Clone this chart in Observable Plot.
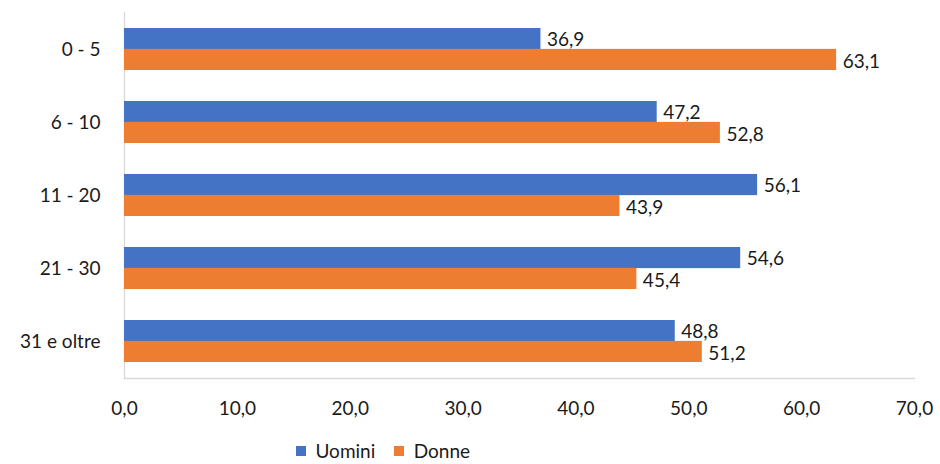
<!DOCTYPE html>
<html>
<head>
<meta charset="utf-8">
<script src="https://cdn.jsdelivr.net/npm/d3@7"></script>
<script src="https://cdn.jsdelivr.net/npm/@observablehq/plot@0.6"></script>
<style>
  body { margin: 0; background: #fff; font-family: Lato, "Open Sans", sans-serif; }
  #chart { width: 940px; }
  #legend { margin-left: 296px; margin-top: 2px; }
</style>
</head>
<body>
<div id="chart"></div>
<div id="legend"></div>
<script>
const categories = ["0 - 5", "6 - 10", "11 - 20", "21 - 30", "31 e oltre"];
const uomini = [36.9, 47.2, 56.1, 54.6, 48.8];
const donne = [63.1, 52.8, 43.9, 45.4, 51.2];
const series = ["Uomini", "Donne"];
const colors = ["#4472C4", "#ED7D31"];
const xTicks = [0, 10, 20, 30, 40, 50, 60, 70];

const fmt = v => v.toFixed(1).replace(".", ",");

const data = [];
categories.forEach((c, i) => {
  data.push({cat: c, serie: series[0], value: uomini[i]});
  data.push({cat: c, serie: series[1], value: donne[i]});
});
const dU = data.filter(d => d.serie === series[0]);
const dD = data.filter(d => d.serie === series[1]);

const W = 940, H = 432, mt = 12, mb = H - 378, ml = 124, mr = 26;
const yOpts = {type: "band", domain: categories, range: [mt, H - mb], paddingInner: 0.43, paddingOuter: 0.215};
const bw = Plot.scale({y: yOpts}).bandwidth;
const font = "Lato, 'Open Sans', sans-serif";

const chart = Plot.plot({
  width: W, height: H,
  marginTop: mt, marginBottom: mb, marginLeft: ml, marginRight: mr,
  style: {fontFamily: font, fontSize: "19px", color: "#1a1a1a", background: "#fff"},
  x: {domain: [0, 70], ticks: xTicks, tickFormat: fmt, tickSize: 0, tickPadding: 23, label: null},
  y: {domain: categories, paddingInner: 0.43, paddingOuter: 0.215, tickSize: 0, tickPadding: 24, label: null},
  color: {domain: series, range: colors},
  marks: [
    Plot.frame({anchor: "bottom", stroke: "#d9d9d9", strokeWidth: 1.3}),
    Plot.frame({anchor: "left", stroke: "#d9d9d9", strokeWidth: 1.3}),
    Plot.barX(dU, {x: "value", y: "cat", fill: "serie", insetBottom: bw / 2}),
    Plot.barX(dD, {x: "value", y: "cat", fill: "serie", insetTop: bw / 2}),
    Plot.text(dU, {x: "value", y: "cat", text: d => fmt(d.value), dx: 6, dy: -bw / 4 + 1, textAnchor: "start", fill: "#1a1a1a", fontSize: 19}),
    Plot.text(dD, {x: "value", y: "cat", text: d => fmt(d.value), dx: 6, dy: bw / 4 + 2, textAnchor: "start", fill: "#1a1a1a", fontSize: 19})
  ]
});
document.getElementById("chart").appendChild(chart);

const legend = Plot.legend({
  color: {domain: series, range: colors},
  swatchSize: 10,
  style: {fontFamily: font, fontSize: "19px", color: "#1a1a1a"}
});
document.getElementById("legend").appendChild(legend);
</script>
</body>
</html>
